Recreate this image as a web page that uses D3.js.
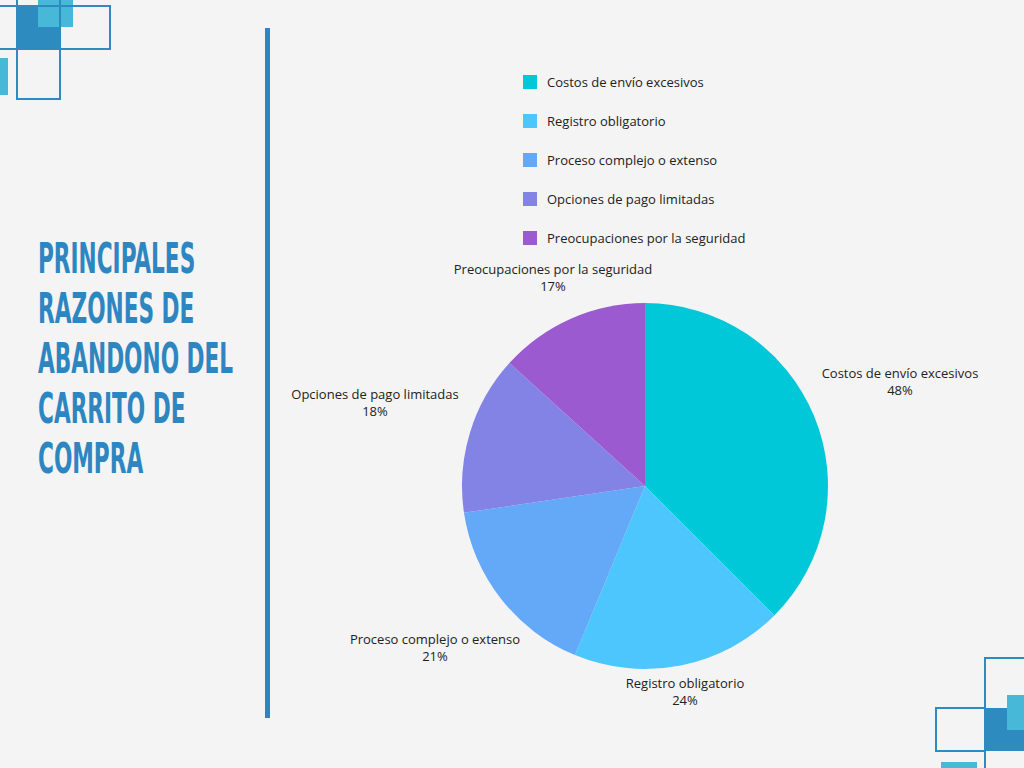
<!DOCTYPE html><html><head><meta charset="utf-8"><script src="https://cdn.jsdelivr.net/npm/d3@7"></script>
<style>body{margin:0;background:#f4f4f4}svg{display:block}</style></head><body><svg id="c" width="1024" height="768"></svg>
<script>
const categories=["Costos de envío excesivos","Registro obligatorio","Proceso complejo o extenso","Opciones de pago limitadas","Preocupaciones por la seguridad"];
const values=[48,24,21,18,17];
const colors=["#00C8D8","#4CC6FC","#64A8F8","#8383E6","#9B5AD0"];
const titleLines=["PRINCIPALES","RAZONES DE","ABANDONO DEL","CARRITO DE","COMPRA"];
const svg=d3.select("#c");
svg.append("rect").attr("width",1024).attr("height",768).attr("fill","#f4f4f4");
const dark="#2E8BC0",light="#48B8D8";
const deco=svg.append("g");
deco.append("rect").attr("x",17).attr("y",5).attr("width",43).attr("height",44).attr("fill",dark);
deco.append("rect").attr("x",38).attr("y",-2).attr("width",35).attr("height",29).attr("fill",light);
deco.append("rect").attr("x",-1).attr("y",58).attr("width",9).attr("height",37).attr("fill",light);
[[-5,6,115,43],[17,-5,43,104]].forEach(r=>deco.append("rect").attr("x",r[0]).attr("y",r[1]).attr("width",r[2]).attr("height",r[3]).attr("fill","none").attr("stroke",dark).attr("stroke-width",2));
deco.append("rect").attr("x",985).attr("y",708).attr("width",45).attr("height",43).attr("fill",dark);
deco.append("rect").attr("x",1007).attr("y",695).attr("width",23).attr("height",35).attr("fill",light);
deco.append("rect").attr("x",941).attr("y",762).attr("width",36).attr("height",10).attr("fill",light);
[[985,658,50,115],[936,708,49,43]].forEach(r=>deco.append("rect").attr("x",r[0]).attr("y",r[1]).attr("width",r[2]).attr("height",r[3]).attr("fill","none").attr("stroke",dark).attr("stroke-width",2));
svg.append("rect").attr("x",265).attr("y",28).attr("width",5).attr("height",690).attr("fill","#2E86C1");
svg.append("text").attr("transform","translate(38,0) scale(0.56,1)").attr("font-family","'DejaVu Sans Condensed','DejaVu Sans',sans-serif").attr("font-weight","bold").attr("font-size",43).attr("fill","#2E86C1")
 .selectAll("tspan").data(titleLines).join("tspan").attr("x",0).attr("y",(d,i)=>273+i*50).text(d=>d);
const font="'Open Sans',sans-serif";
const lg=svg.append("g").selectAll("g").data(categories).join("g").attr("transform",(d,i)=>`translate(523,${75+i*39})`);
lg.append("rect").attr("width",14).attr("height",14).attr("fill",(d,i)=>colors[i]);
lg.append("text").attr("x",24).attr("y",12).attr("font-family",font).attr("font-size",13).attr("fill","#222").text(d=>d);
const cx=645,cy=486,R=183;
const pie=d3.pie().sort(null).value(d=>d)(values);
const arc=d3.arc().innerRadius(0).outerRadius(R);
const g=svg.append("g").attr("transform",`translate(${cx},${cy})`);
g.selectAll("path").data(pie).join("path").attr("d",arc).attr("fill",(d,i)=>colors[i]);
const lpos=[[255,-108],[40,202],[-210,158],[-270,-87],[-92,-212]];
const lt=g.selectAll("text.l").data(pie).join("text").attr("font-family",font).attr("font-size",13).attr("fill","#222").attr("text-anchor","middle");
lt.append("tspan").attr("x",(d,i)=>lpos[i][0]).attr("y",(d,i)=>lpos[i][1]).text((d,i)=>categories[i]);
lt.append("tspan").attr("x",(d,i)=>lpos[i][0]).attr("y",(d,i)=>lpos[i][1]+17).text(d=>d.data+"%");
</script></body></html>
